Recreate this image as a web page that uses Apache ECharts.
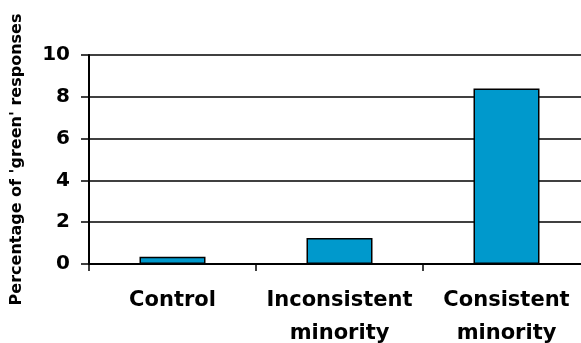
<!DOCTYPE html>
<html><head><meta charset="utf-8">
<script src="https://cdn.jsdelivr.net/npm/echarts@6/dist/echarts.min.js"></script>
<style>html,body{margin:0;padding:0;background:#fff;overflow:hidden}#c{width:581px;height:343px}</style>
</head><body><div id="c"></div>
<script>
const categories = ['Control', 'Inconsistent\nminority', 'Consistent\nminority'];
const values = [0.35, 1.25, 8.4];
const yTitle = "Percentage of 'green' responses";
const FONT = 'DejaVu Sans';
const chart = echarts.init(document.getElementById('c'), null, {renderer: 'canvas'});
chart.setOption({
  animation: false,
  grid: {left: 89, top: 55, width: 501, height: 209, containLabel: false, outerBoundsMode: 'none'},
  xAxis: {
    type: 'category', data: categories,
    axisLine: {lineStyle: {color: '#000', width: 2}},
    axisTick: {show: true, interval: 0, length: 7, lineStyle: {color: '#000', width: 1.5}},
    axisLabel: {interval: 0, hideOverlap: false, color: '#000', fontFamily: FONT, fontWeight: 'bold', fontSize: 21, lineHeight: 33, margin: 20}
  },
  yAxis: {
    type: 'value', min: 0, max: 10, interval: 2,
    name: yTitle, nameLocation: 'middle', nameGap: 64,
    nameTextStyle: {color: '#000', fontFamily: FONT, fontWeight: 'bold', fontSize: 16},
    axisLine: {show: true, lineStyle: {color: '#000', width: 2}},
    axisTick: {show: true, length: 8, lineStyle: {color: '#000', width: 1.5}},
    axisLabel: {color: '#000', fontFamily: FONT, fontWeight: 'bold', fontSize: 20, margin: 19},
    splitLine: {show: true, lineStyle: {color: '#000', width: 1.5}}
  },
  series: [{
    type: 'bar', data: values, barWidth: 66,
    itemStyle: {color: '#0099cc', borderColor: '#000', borderWidth: 1.5}
  }]
});
</script></body></html>
